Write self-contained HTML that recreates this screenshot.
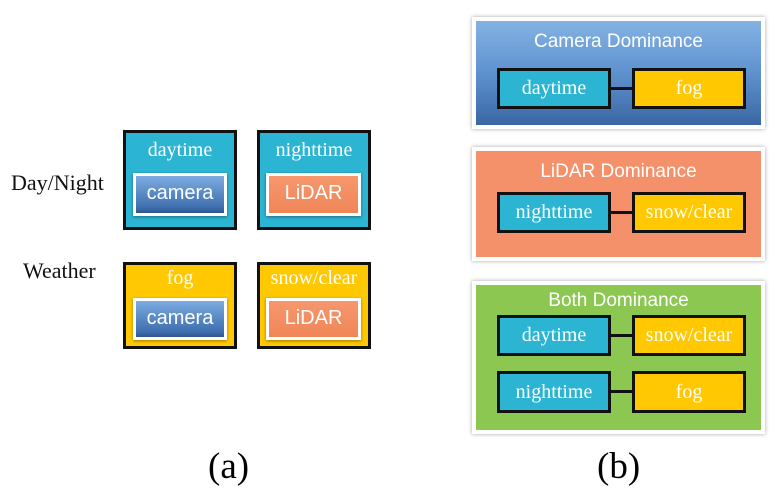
<!DOCTYPE html>
<html><head><style>
body{margin:0;width:780px;height:499px;background:#fff;position:relative;overflow:hidden;font-family:"Liberation Serif",serif}
.a{position:absolute;box-sizing:border-box}
.cy{background:#2bb5d3;border:3px solid #111}
.ye{background:#ffc800;border:3px solid #111}
.t{color:#fff;font-size:20px;text-align:center}
.btn{border:3px solid #fff;box-shadow:0 1px 3px rgba(0,0,0,.4);color:#fff;font-family:"Liberation Sans",sans-serif;font-size:20px;text-align:center;line-height:35px}
.bl{background:linear-gradient(#7cace0,#3f6fae 85%,#2d5690)}
.or{background:linear-gradient(#f7976d,#ef8658)}
.panel{border:4px solid #fff;box-shadow:0 0 4px rgba(0,0,0,.35)}
.pt{color:#fff;font-family:"Liberation Sans",sans-serif;font-size:19px;text-align:center;width:100%}
.lbl{color:#111;font-size:22px}
.ib{display:flex;align-items:center;justify-content:center;color:#fff;font-size:20px}
.ln{background:#111;height:3px}
</style></head><body>
<div class="a lbl" style="left:11px;top:170px">Day/Night</div>
<div class="a lbl" style="left:23px;top:258px">Weather</div>

<div class="a cy" style="left:123px;top:130px;width:114px;height:100px"><div class="t" style="margin-top:6px">daytime</div></div>
<div class="a btn bl" style="left:133px;top:173px;width:94px;height:43px">camera</div>
<div class="a cy" style="left:257px;top:130px;width:114px;height:100px"><div class="t" style="margin-top:6px">nighttime</div></div>
<div class="a btn or" style="left:266px;top:173px;width:95px;height:43px">LiDAR</div>
<div class="a ye" style="left:123px;top:262px;width:114px;height:87px"><div class="t" style="margin-top:2px">fog</div></div>
<div class="a btn bl" style="left:133px;top:298px;width:94px;height:42px">camera</div>
<div class="a ye" style="left:257px;top:262px;width:114px;height:87px"><div class="t" style="margin-top:2px">snow/clear</div></div>
<div class="a btn or" style="left:266px;top:298px;width:95px;height:42px">LiDAR</div>

<div class="a" style="left:208px;top:445px;font-size:37px">(a)</div>
<div class="a" style="left:597px;top:445px;font-size:37px">(b)</div>

<div class="a panel" style="left:472px;top:17px;width:293px;height:112px;background:linear-gradient(#84b2e2,#5e92cf 50%,#3a67a4)"><div class="pt" style="margin-top:10px">Camera Dominance</div></div>
<div class="a cy ib" style="left:497px;top:68px;width:114px;height:41px">daytime</div>
<div class="a ln" style="left:610px;top:87px;width:23px"></div>
<div class="a ye ib" style="left:632px;top:68px;width:114px;height:41px">fog</div>

<div class="a panel" style="left:472px;top:147px;width:293px;height:114px;background:#f4916a"><div class="pt" style="margin-top:10px">LiDAR Dominance</div></div>
<div class="a cy ib" style="left:497px;top:192px;width:114px;height:41px">nighttime</div>
<div class="a ln" style="left:610px;top:211px;width:23px"></div>
<div class="a ye ib" style="left:632px;top:192px;width:114px;height:41px">snow/clear</div>

<div class="a panel" style="left:472px;top:281px;width:293px;height:153px;background:#8cc751"><div class="pt" style="margin-top:5px">Both Dominance</div></div>
<div class="a cy ib" style="left:497px;top:315px;width:114px;height:41px">daytime</div>
<div class="a ln" style="left:610px;top:334px;width:23px"></div>
<div class="a ye ib" style="left:632px;top:315px;width:114px;height:41px">snow/clear</div>
<div class="a cy ib" style="left:497px;top:371px;width:114px;height:42px">nighttime</div>
<div class="a ln" style="left:610px;top:390px;width:23px"></div>
<div class="a ye ib" style="left:632px;top:371px;width:114px;height:42px">fog</div>
</body></html>
